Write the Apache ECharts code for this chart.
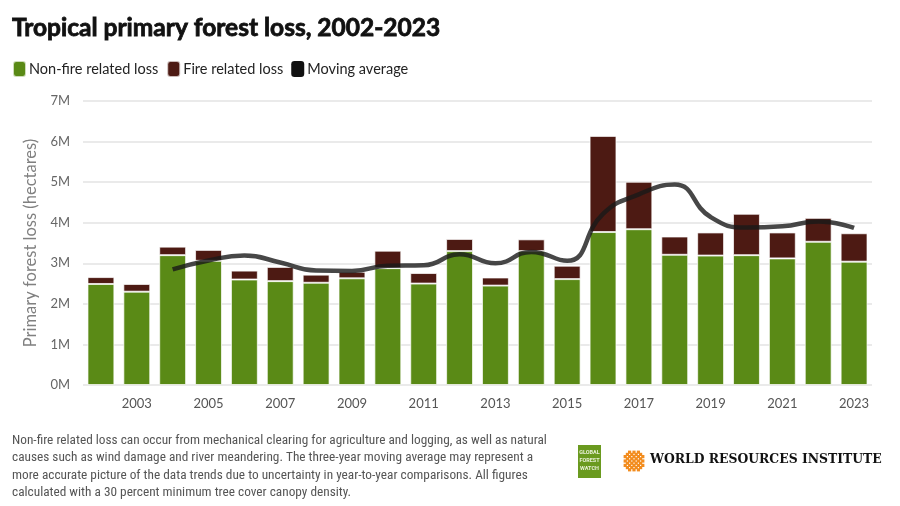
<!DOCTYPE html>
<html><head><meta charset="utf-8">
<script src="https://cdn.jsdelivr.net/npm/echarts@6/dist/echarts.min.js"></script>
<style>html,body{margin:0;padding:0;background:#fff}#c{width:900px;height:506px}</style>
</head><body><div id="c"></div>
<script>
const years = ['2002','2003','2004','2005','2006','2007','2008','2009','2010','2011','2012','2013','2014','2015','2016','2017','2018','2019','2020','2021','2022','2023'];
const nonFireLoss = [2.49,2.30,3.20,3.06,2.60,2.56,2.52,2.63,2.88,2.50,3.30,2.45,3.30,2.61,3.77,3.84,3.21,3.19,3.20,3.12,3.53,3.04];
const fireLoss = [0.17,0.19,0.21,0.27,0.22,0.35,0.20,0.16,0.43,0.26,0.30,0.20,0.29,0.33,2.37,1.17,0.45,0.57,1.02,0.64,0.59,0.70];
const movingAverage = [null,null,2.85,3.07,3.19,3.02,2.82,2.81,2.94,2.95,3.22,3.00,3.28,3.06,4.22,4.70,4.94,4.14,3.88,3.91,4.03,3.87];
const yTicks = ['0M','1M','2M','3M','4M','5M','6M','7M'];
const footLines = [
  'Non-fire related loss can occur from mechanical clearing for agriculture and logging, as well as natural',
  'causes such as wind damage and river meandering. The three-year moving average may represent a',
  'more accurate picture of the data trends due to uncertainty in year-to-year comparisons. All figures',
  'calculated with a 30 percent minimum tree cover canopy density.'
];

const chart = echarts.init(document.getElementById('c'));
const GREEN = '#5a8a16', DARK = '#4d1a13';

const wriDots = [];
const cx = 634, cy = 461;
for (let i = -3; i <= 3; i++) {
  for (let j = -3; j <= 3; j++) {
    if (Math.abs(i) + Math.abs(j) > 4) continue;
    wriDots.push({type:'rect', x: cx + (i - j) * 2.2 - 1.6, y: cy + (i + j) * 2.2 - 1.6,
      shape:{width:3.2,height:3.2}, style:{fill:'#f28c1e'}});
  }
}

chart.setOption({
  animation: false,
  textStyle: {fontFamily: 'Lato, "Noto Sans", sans-serif'},
  title: {
    text: 'Tropical primary forest loss, 2002-2023',
    left: 7, top: 11,
    textStyle: {fontFamily: 'Lato', fontWeight: 'bold', fontSize: 24.5, color: '#111',
      textBorderColor: '#111', textBorderWidth: 0.8}
  },
  legend: {
    left: 7, top: 55,
    itemWidth: 13, itemHeight: 16, itemGap: 8,
    textStyle: {fontSize: 14.5, color: '#222', padding: [0,0,0,-2]},
    data: [
      {name: 'Non-fire related loss', icon: 'roundRect'},
      {name: 'Fire related loss', icon: 'roundRect'},
      {name: 'Moving average', icon: 'roundRect', itemStyle: {color: '#111'}}
    ]
  },
  grid: {left: 83, right: 28, top: 101, bottom: 121, containLabel: false},
  xAxis: {
    type: 'category', data: years,
    axisLine: {show: false}, axisTick: {show: false},
    axisLabel: {
      interval: function (idx) { return idx % 2 === 1; },
      color: '#555', fontSize: 13, margin: 12
    }
  },
  yAxis: {
    type: 'value', min: 0, max: 7, interval: 1,
    name: 'Primary forest loss (hectares)',
    nameLocation: 'middle', nameGap: 41, nameRotate: 90,
    nameTextStyle: {fontSize: 16.5, color: '#808080'},
    axisLabel: {formatter: function (v) { return yTicks[v]; }, color: '#666', fontSize: 13, margin: 13},
    splitLine: {lineStyle: {color: '#e3e3e3', width: 1.5}}
  },
  series: [
    {name: 'Non-fire related loss', type: 'bar', stack: 'loss', data: nonFireLoss,
     barCategoryGap: '25%',
     itemStyle: {color: GREEN, borderColor: 'rgba(255,255,255,0.7)', borderWidth: 1}},
    {name: 'Fire related loss', type: 'bar', stack: 'loss', data: fireLoss,
     itemStyle: {color: DARK, borderColor: 'rgba(255,255,255,0.7)', borderWidth: 1}},
    {name: 'Moving average', type: 'line', data: movingAverage, smooth: 0.5,
     symbol: 'none', z: 5,
     lineStyle: {color: 'rgba(25,25,25,0.8)', width: 4.5},
     itemStyle: {color: '#111'}}
  ],
  graphic: [
    {type: 'group', left: 12, top: 434, children: footLines.map(function (t, i) {
      return {type: 'text', x: 0, y: i * 17.5,
        style: {text: t, fill: '#555', fontSize: 13.3, fontFamily: '"Liberation Sans Narrow", "Roboto Condensed", Roboto, sans-serif'}};
    })},
    {type: 'rect', shape: {x: 578, y: 445, width: 23, height: 33}, style: {fill: '#6a9a1f'}},
    {type: 'text', x: 589.5, y: 449, style: {text: 'GLOBAL\nFOREST\nWATCH', fill: '#e8f0d8', fontSize: 5.5, lineHeight: 8, align: 'center', fontFamily: 'Roboto', fontWeight: 'bold'}},
    {type: 'group', children: wriDots},
    {type: 'text', x: 650, y: 454, style: {text: 'WORLD RESOURCES INSTITUTE', fill: '#111', fontSize: 12.4, fontFamily: '"DejaVu Serif", serif', fontWeight: 'bold'}}
  ]
});
</script>
</body></html>
